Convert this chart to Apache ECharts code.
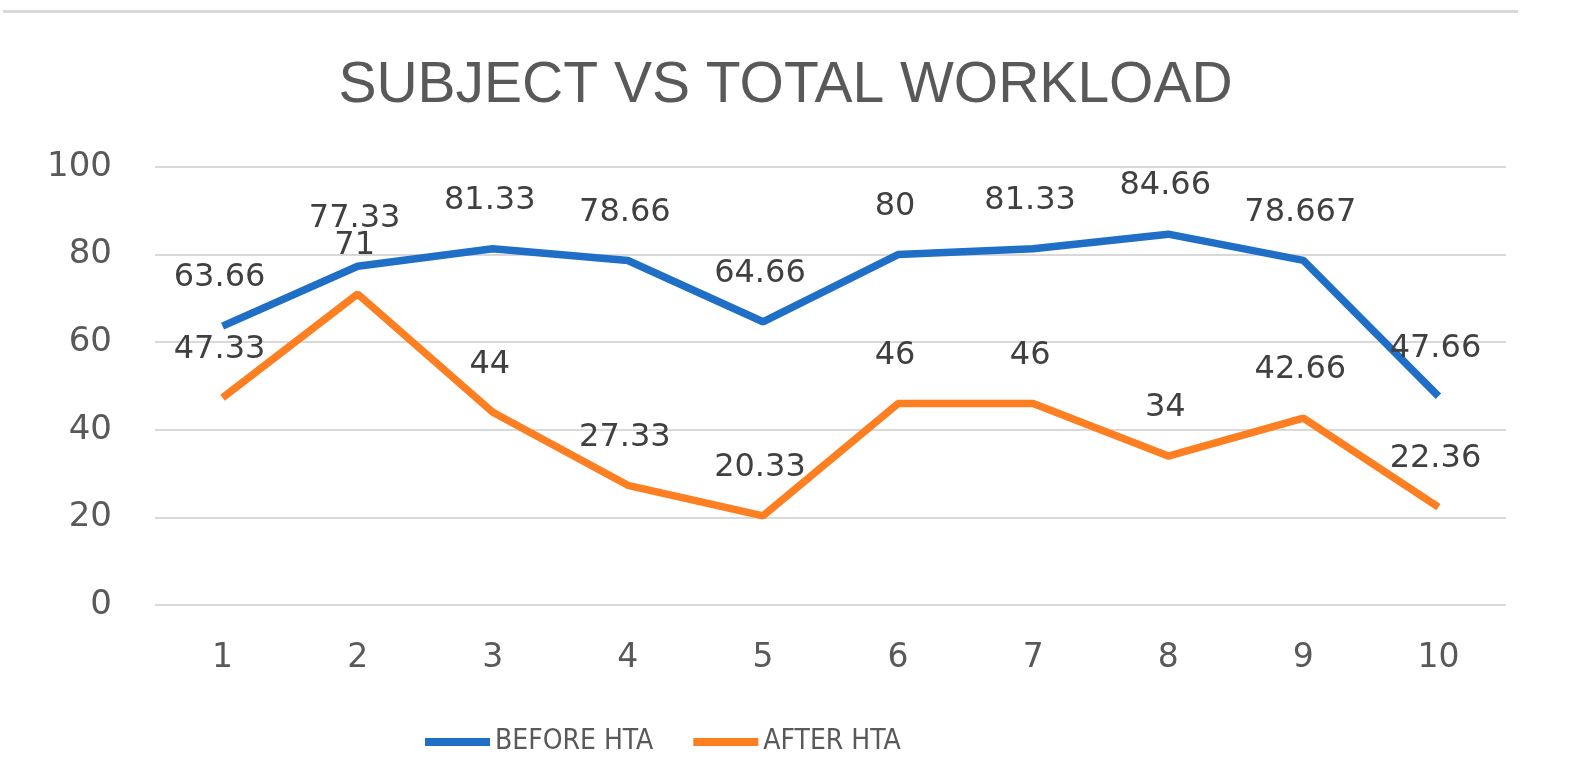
<!DOCTYPE html>
<html>
<head>
<meta charset="utf-8">
<script src="https://cdn.jsdelivr.net/npm/echarts@6/dist/echarts.min.js"></script>
<style>html,body{margin:0;padding:0;background:#fff}#c{width:1571px;height:768px}</style>
</head>
<body>
<div id="c"></div>
<script>
const categories = ['1','2','3','4','5','6','7','8','9','10'];
const beforeHTA = [63.66, 77.33, 81.33, 78.66, 64.66, 80, 81.33, 84.66, 78.667, 47.66];
const afterHTA = [47.33, 71, 44, 27.33, 20.33, 46, 46, 34, 42.66, 22.36];
const seriesNames = ['BEFORE HTA', 'AFTER HTA'];
const titleText = 'SUBJECT VS TOTAL WORKLOAD';

const chart = echarts.init(document.getElementById('c'));
const labelStyle = {
  show: true, position: 'top', distance: 32, offset: [-3, 0],
  color: '#404040', fontFamily: 'DejaVu Sans', fontSize: 32
};
chart.setOption({
  animation: false,
  backgroundColor: '#fff',
  title: {
    text: titleText, left: 'center', top: 53,
    textStyle: { fontFamily: 'Liberation Sans', fontWeight: 'normal', fontSize: 57, color: '#595959' }
  },
  legend: {
    left: 420, top: 723, itemWidth: 65, itemHeight: 8, itemGap: 40,
    icon: 'rect',
    textStyle: { fontFamily: '"DejaVu Sans Condensed", "Roboto Condensed", Roboto, "Liberation Sans", sans-serif', fontSize: 28, color: '#595959' },
    data: seriesNames
  },
  grid: { left: 155, right: 65, top: 167, bottom: 163, containLabel: false },
  xAxis: {
    type: 'category', data: categories, boundaryGap: true,
    axisLine: { show: false }, axisTick: { show: false },
    axisLabel: { margin: 37, color: '#595959', fontFamily: 'DejaVu Sans', fontSize: 33 }
  },
  yAxis: {
    type: 'value', min: 0, max: 100, interval: 20,
    axisLine: { show: false }, axisTick: { show: false },
    axisLabel: { margin: 43, color: '#595959', fontFamily: 'DejaVu Sans', fontSize: 34, padding: [6, 0, 0, 0] },
    splitLine: { lineStyle: { color: '#d9d9d9', width: 2 } }
  },
  graphic: [{
    type: 'rect', shape: { x: 3, y: 10, width: 1515, height: 3 },
    style: { fill: '#d9d9d9' }
  }],
  series: [
    { name: seriesNames[0], type: 'line', data: beforeHTA, symbol: 'circle', symbolSize: 0.01, showSymbol: true,
      lineStyle: { color: '#1f6fc6', width: 7.5 }, itemStyle: { color: '#1f6fc6' }, label: labelStyle },
    { name: seriesNames[1], type: 'line', data: afterHTA, symbol: 'circle', symbolSize: 0.01, showSymbol: true,
      lineStyle: { color: '#fe7e22', width: 7.5 }, itemStyle: { color: '#fe7e22' }, label: labelStyle }
  ]
});
</script>
</body>
</html>
